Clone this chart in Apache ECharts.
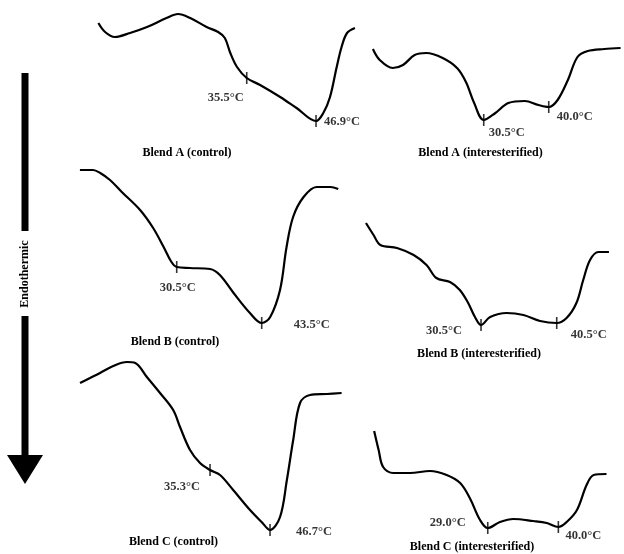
<!DOCTYPE html>
<html>
<head>
<meta charset="utf-8">
<script src="https://cdn.jsdelivr.net/npm/echarts@6/dist/echarts.min.js"></script>
<style>
html,body{margin:0;padding:0;background:#fff;}
#chart{width:624px;height:554px;}
</style>
</head>
<body>
<div id="chart"></div>
<script>
// ---- Data: DSC melting curves (temperature °C, heat flow arb. units; endotherm down) ----
const panelTitles = [
  "Blend A (control)", "Blend A (interesterified)",
  "Blend B (control)", "Blend B (interesterified)",
  "Blend C (control)", "Blend C (interesterified)"
];

const aCtrlTemp = [11.1,12.2,13.8,16.3,19.1,22.3,24.2,26.2,28.9,30.8,31.9,32.8,33.9,35.5,37.7,41.0,43.7,46.9,48.1,49.2,50.3,51.1,52.0,53.3];
const aCtrlHeat = [10.7,9.8,9.3,9.7,10.3,11.2,11.6,11.2,10.3,9.8,9.2,7.7,6.3,5.2,4.5,3.3,2.2,0.9,1.7,3.3,6.3,8.3,9.7,10.2];

const aInterTemp = [14.3,15.3,17.2,18.7,20.4,22.1,24.5,26.6,27.9,29.1,30.5,32.2,34.1,36.5,38.5,40.0,41.3,42.8,44.2,45.7,48.1,50.5];
const aInterHeat = [8.1,7.0,6.2,6.5,7.5,7.7,7.2,6.2,4.8,2.7,1.0,1.7,2.7,2.9,2.5,2.3,3.0,5.0,7.3,7.9,8.1,8.2];

const bCtrlTemp = [15.7,17.7,18.8,20.3,22.1,24.9,26.9,28.5,29.7,30.5,32.5,35.6,37.1,39.2,41.7,43.5,44.8,46.3,47.3,48.3,49.9,51.9,54.0,55.2];
const bCtrlHeat = [16.0,16.0,15.7,15.0,13.8,12.0,10.2,8.3,6.8,6.3,6.2,6.1,5.5,3.7,1.7,0.7,1.3,4.0,8.3,11.3,13.3,14.3,14.3,14.1];

const bInterTemp = [15.3,16.3,17.2,19.4,21.6,23.3,24.6,26.4,27.7,28.8,29.7,30.5,31.7,33.9,36.1,38.3,40.5,41.8,43.1,44.0,44.9,46.0,47.4];
const bInterHeat = [10.7,9.5,8.5,8.2,7.5,6.5,5.2,4.8,4.0,2.7,1.3,0.5,1.3,1.7,1.5,0.9,0.7,1.2,2.7,5.0,7.0,7.8,7.8];

const cCtrlTemp = [10.6,12.5,14.4,16.9,19.5,21.1,23.3,25.8,28.3,29.6,31.5,33.4,35.3,37.2,39.7,42.9,45.1,46.7,48.6,49.9,51.1,52.4,54.3,57.5,60.3];
const cCtrlHeat = [15.2,15.7,16.2,16.9,17.3,17.2,15.8,14.2,12.5,10.8,8.5,7.2,6.5,6.0,4.5,2.5,1.3,0.5,1.8,5.5,9.5,13.2,14.0,14.1,14.2];

const cInterTemp = [11.3,12.0,12.7,14.3,16.9,20.0,22.6,24.7,26.2,27.8,29.0,30.9,33.0,36.1,38.2,40.0,41.3,42.9,44.4,45.5,47.5];
const cInterHeat = [10.4,8.5,6.8,6.2,6.2,6.4,6.0,5.2,3.7,1.5,0.7,1.3,1.6,1.4,1.2,0.8,1.3,2.5,5.0,6.0,6.1];

// marked transition temperatures and curve level at the marks
const aCtrlMarkT = [35.5, 46.9];   const aCtrlMarkH = [5.2, 0.9];
const aInterMarkT = [30.5, 40.0];  const aInterMarkH = [1.0, 2.3];
const bCtrlMarkT = [30.5, 43.5];   const bCtrlMarkH = [6.3, 0.7];
const bInterMarkT = [30.5, 40.5];  const bInterMarkH = [0.5, 0.7];
const cCtrlMarkT = [35.3, 46.7];   const cCtrlMarkH = [6.5, 0.5];
const cInterMarkT = [29.0, 40.0];  const cInterMarkH = [0.7, 0.8];

// ---- Layout (positions / scales, not data) ----
const layout = [
  {left:91.7,  top:10,  width:267.5, height:120, xmin:10, xmax:54, ymax:12,
   title:[187,153], labelOff:[[-21,20],[26,1]]},
  {left:364.0, top:40,  width:262.8, height:90,  xmin:13, xmax:51, ymax:9,
   title:[480.5,153], labelOff:[[23,13],[26,10]]},
  {left:75.35, top:160, width:268.1, height:170, xmin:15, xmax:56, ymax:17,
   title:[175,342], labelOff:[[1,21],[50,2]]},
  {left:363.7, top:215, width:249.8, height:115, xmin:15, xmax:48, ymax:11.5,
   title:[479,354], labelOff:[[-37,6],[32,12]]},
  {left:71.6,  top:350, width:273.7, height:185, xmin:9,  xmax:61, ymax:18.5,
   title:[173.5,542], labelOff:[[-28,17],[44,2]]},
  {left:365.8, top:425, width:243.9, height:110, xmin:10, xmax:48, ymax:11,
   title:[472,547], labelOff:[[-40,-5],[25,9]]}
];

const curves = [
  [aCtrlTemp, aCtrlHeat, aCtrlMarkT, aCtrlMarkH],
  [aInterTemp, aInterHeat, aInterMarkT, aInterMarkH],
  [bCtrlTemp, bCtrlHeat, bCtrlMarkT, bCtrlMarkH],
  [bInterTemp, bInterHeat, bInterMarkT, bInterMarkH],
  [cCtrlTemp, cCtrlHeat, cCtrlMarkT, cCtrlMarkH],
  [cInterTemp, cInterHeat, cInterMarkT, cInterMarkH]
];

const FONT = '"Liberation Serif","Times New Roman",serif';

const grids = [], xAxes = [], yAxes = [], series = [], graphics = [];
layout.forEach((L, i) => {
  grids.push({left:L.left, top:L.top, width:L.width, height:L.height, containLabel:false});
  xAxes.push({type:'value', gridIndex:i, min:L.xmin, max:L.xmax, show:false});
  yAxes.push({type:'value', gridIndex:i, min:0, max:L.ymax, show:false});
  const [T, H, MT, MH] = curves[i];
  series.push({
    type:'line', xAxisIndex:i, yAxisIndex:i, smooth:0.35, symbol:'none', clip:false,
    lineStyle:{color:'#000', width:2.2}, silent:true,
    data: T.map((t, k) => [t, H[k]])
  });
  series.push({
    type:'scatter', xAxisIndex:i, yAxisIndex:i, symbol:'rect', symbolSize:[1.6, 12],
    itemStyle:{color:'#000'}, silent:true, clip:false,
    label:{show:true, position:'inside', color:'#000', fontFamily:FONT, fontSize:12.5,
           fontWeight:'bold', align:'center', verticalAlign:'middle',
           formatter: p => p.value[0].toFixed(1) + '°C'},
    data: MT.map((t, k) => ({value:[t, MH[k]], label:{offset:L.labelOff[k]}}))
  });
  graphics.push({
    type:'text', x:L.title[0], y:L.title[1],
    style:{text:panelTitles[i], fill:'#000', font:'bold 12px ' + FONT,
           align:'center', verticalAlign:'middle'}
  });
});

// Endothermic arrow
graphics.push({type:'rect', shape:{x:21.5, y:73, width:7, height:158}, style:{fill:'#000'}});
graphics.push({type:'rect', shape:{x:21.5, y:316, width:7, height:141}, style:{fill:'#000'}});
graphics.push({type:'polygon', shape:{points:[[7,455],[43,455],[25,484]]}, style:{fill:'#000'}});
graphics.push({type:'text', x:25, y:274, rotation:Math.PI/2,
  style:{text:'Endothermic', fill:'#000', font:'bold 12px ' + FONT, align:'center', verticalAlign:'middle'}});

const chart = echarts.init(document.getElementById('chart'), null, {renderer:'canvas'});
chart.setOption({
  backgroundColor:'#fff',
  animation:false,
  grid:grids, xAxis:xAxes, yAxis:yAxes, series:series,
  graphic:graphics
});
</script>
</body>
</html>
